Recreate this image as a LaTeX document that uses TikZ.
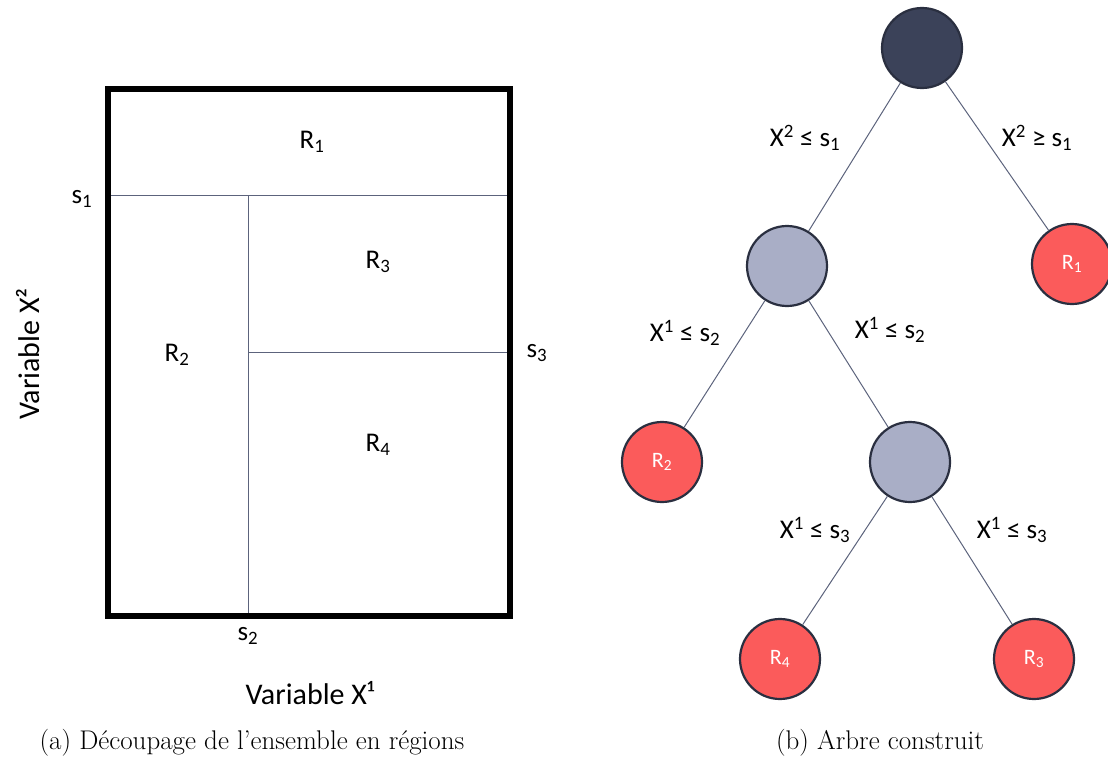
\documentclass[tikz,border=0pt]{standalone}
\usepackage{fontspec}
\newfontfamily\calibf{Carlito}
\definecolor{rootc}{HTML}{3B4259}
\definecolor{innerc}{HTML}{A9AEC6}
\definecolor{leafc}{HTML}{FB5B5B}
\definecolor{borderc}{HTML}{2A2F40}
\definecolor{linec}{HTML}{5C637C}
\newcommand\up[1]{\textsuperscript{#1}}
\newcommand\dn[1]{\textsubscript{#1}}
\tikzset{
  lbl/.style={font=\calibf\fontsize{27}{32}\selectfont, text=black, inner sep=0pt},
  axl/.style={font=\calibf\fontsize{30}{34}\selectfont, text=black, inner sep=0pt},
  thinl/.style={draw=linec, line width=1pt},
  nd/.style={circle, minimum size=80pt, inner sep=0pt, draw=borderc, line width=2.2pt},
  leaf/.style={nd, fill=leafc, text=white, font=\calibf\fontsize{22}{26}\selectfont},
  capt/.style={font=\fontsize{27}{32}\selectfont, inner sep=0pt}
}
\begin{document}
\begin{tikzpicture}[x=1pt,y=-1pt]
\useasboundingbox (0,0) rectangle (1108,760);
% ---- (a) regions ----
\draw[thinl] (108,195) -- (510,195);
\draw[thinl] (248,195) -- (248,615.5);
\draw[thinl] (248,352) -- (510,352);
\draw[line width=6pt, line join=miter] (108,89) rectangle (510,615.5);
\node[lbl] (r1) at (312,142) {R\dn{1}};
\node[lbl] (r3) at (378,262) {R\dn{3}};
\node[lbl] (r2) at (177,355) {R\dn{2}};
\node[lbl] (r4) at (378,445) {R\dn{4}};
\node[lbl] (ls1) at (82,199) {s\dn{1}};
\node[lbl] (ls3) at (537,353) {s\dn{3}};
\node[lbl] (ls2) at (248,636) {s\dn{2}};
\node[axl, rotate=90] (vx2) at (28,354) {Variable X²};
\node[axl] (vx1) at (310,693) {Variable X¹};
\node[capt] (capa) at (252,743) {(a) Découpage de l'ensemble en régions};
% ---- (b) tree ----
\node[nd, fill=rootc] (root) at (922,48) {};
\node[nd, fill=innerc] (n1) at (787,266) {};
\node[leaf] (l1) at (1072,264) {R\dn{1}};
\node[leaf] (l2) at (662,462) {R\dn{2}};
\node[nd, fill=innerc] (n2) at (910,462) {};
\node[leaf] (l4) at (780,659) {R\dn{4}};
\node[leaf] (l3) at (1034,659) {R\dn{3}};
\draw[thinl] (root) -- (n1);
\draw[thinl] (root) -- (l1);
\draw[thinl] (n1) -- (l2);
\draw[thinl] (n1) -- (n2);
\draw[thinl] (n2) -- (l4);
\draw[thinl] (n2) -- (l3);
\node[lbl] (e1) at (805,138) {X\up{2} ≤ s\dn{1}};
\node[lbl] (e2) at (1037,138) {X\up{2} ≥ s\dn{1}};
\node[lbl] (e3) at (685,333) {X\up{1} ≤ s\dn{2}};
\node[lbl] (e4) at (890,330) {X\up{1} ≤ s\dn{2}};
\node[lbl] (e5) at (815,530) {X\up{1} ≤ s\dn{3}};
\node[lbl] (e6) at (1012,530) {X\up{1} ≤ s\dn{3}};
\node[capt] (capb) at (880,743) {(b) Arbre construit};
\end{tikzpicture}
\end{document}
